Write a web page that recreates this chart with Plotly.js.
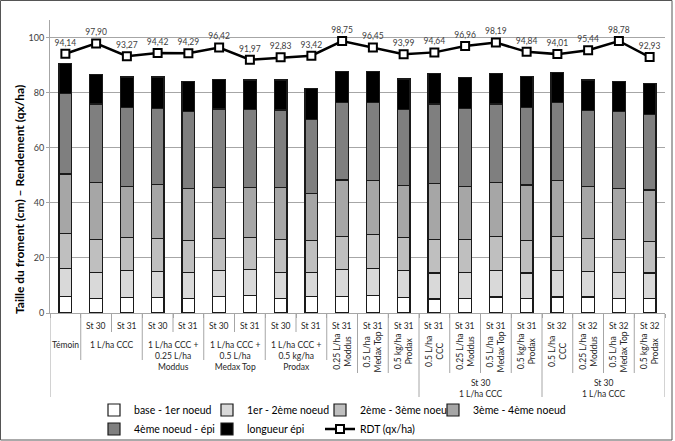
<!DOCTYPE html>
<html><head><meta charset="utf-8">
<script src="https://cdn.plot.ly/plotly-3.0.1.min.js"></script>
<style>html,body{margin:0;padding:0;background:#fff}#chart{width:675px;height:441px}</style>
</head><body><div id="chart"></div>
<script>
// ---- data ----
const categories = [
  "Témoin",
  "1 L/ha CCC St 30", "1 L/ha CCC St 31",
  "1 L/ha CCC + 0.25 L/ha Moddus St 30", "1 L/ha CCC + 0.25 L/ha Moddus St 31",
  "1 L/ha CCC + 0.5 L/ha Medax Top St 30", "1 L/ha CCC + 0.5 L/ha Medax Top St 31",
  "1 L/ha CCC + 0.5 kg/ha Prodax St 30", "1 L/ha CCC + 0.5 kg/ha Prodax St 31",
  "0.25 L/ha Moddus St 31", "0.5 L/ha Medax Top St 31", "0.5 kg/ha Prodax St 31",
  "St 30 1 L/ha CCC + 0.5 L/ha CCC St 31", "St 30 1 L/ha CCC + 0.25 L/ha Moddus St 31",
  "St 30 1 L/ha CCC + 0.5 L/ha Medax Top St 31", "St 30 1 L/ha CCC + 0.5 kg/ha Prodax St 31",
  "St 30 1 L/ha CCC + 0.5 L/ha CCC St 32", "St 30 1 L/ha CCC + 0.25 L/ha Moddus St 32",
  "St 30 1 L/ha CCC + 0.5 L/ha Medax Top St 32", "St 30 1 L/ha CCC + 0.5 kg/ha Prodax St 32"
];
const baseToNode1   = [6.0,5.4,5.7,5.7,5.4,6.0,6.4,5.4,6.0,6.0,6.4,5.7,5.1,5.4,5.8,5.4,5.8,5.8,5.4,5.4];
const node1ToNode2  = [10.3,9.3,9.6,9.4,9.3,9.3,9.3,9.4,8.8,9.7,9.9,9.6,9.4,9.3,9.6,9.1,9.6,9.3,9.4,9.1];
const node2ToNode3  = [12.7,12.1,12.1,12.1,11.5,11.9,11.7,12.0,11.4,12.1,12.3,12.1,12.1,11.9,12.4,11.7,12.4,11.9,11.8,11.5];
const node3ToNode4  = [21.5,20.7,18.5,19.4,19.1,18.3,18.1,18.8,17.3,20.5,19.4,18.9,20.5,19.3,19.7,20.3,20.2,18.9,18.5,18.7];
const node4ToEar    = [29.3,28.4,28.8,27.8,27.8,28.6,28.3,28.1,26.8,28.1,28.5,27.7,28.8,28.4,28.4,28.2,28.4,27.6,28.0,27.5];
const earLength     = [10.7,10.8,11.0,11.3,11.1,10.7,10.8,10.9,11.1,11.2,11.1,11.0,11.1,11.1,11.1,11.1,10.8,11.1,11.1,11.2];
const rdt = [94.14,97.90,93.27,94.42,94.29,96.42,91.97,92.83,93.42,98.75,96.45,93.99,94.64,96.96,98.19,94.84,94.01,95.44,98.78,92.93];

const seriesNames = ["base - 1er noeud","1er - 2ème noeud","2ème - 3ème noeud","3ème - 4ème noeud","4ème noeud - épi","longueur épi"];
const lineName = "RDT (qx/ha)";

// axis label tiers
const tier1Labels = ["","St 30","St 31","St 30","St 31","St 30","St 31","St 30","St 31","St 31","St 31","St 31","St 31","St 31","St 31","St 31","St 32","St 32","St 32","St 32"];
const tier2Labels = ["Témoin","1 L/ha CCC","1 L/ha CCC +<br>0.25 L/ha<br>Moddus","1 L/ha CCC +<br>0.5 L/ha<br>Medax Top","1 L/ha CCC +<br>0.5 kg/ha<br>Prodax",
  "0.25 L/ha<br>Moddus","0.5 L/ha<br>Medax Top","0.5 kg/ha<br>Prodax",
  "0.5 L/ha<br>CCC","0.25 L/ha<br>Moddus","0.5 L/ha<br>Medax Top","0.5 kg/ha<br>Prodax",
  "0.5 L/ha<br>CCC","0.25 L/ha<br>Moddus","0.5 L/ha<br>Medax Top","0.5 kg/ha<br>Prodax"];
const tier2Starts = [0,1,3,5,7,9,10,11,12,13,14,15,16,17,18,19];
const tier2Sizes  = [1,2,2,2,2,1,1,1,1,1,1,1,1,1,1,1];
const tier3Labels = ["","St 30<br>1 L/ha CCC","St 30<br>1 L/ha CCC"];
const tier3Starts = [0,12,16];
const tier3Sizes  = [12,4,4];

// ---- layout helpers ----
const W = 675, H = 441, mL = 50, mR = 10, mT = 20, mB = 128;
const plotH = H - mT - mB, plotW = W - mL - mR;
const py = p => (H - mB - p) / plotH;   // pixel y -> paper y
const px = p => (p - mL) / plotW;       // pixel x -> paper x
const cy = p => (H - p) / H;            // pixel y -> container y
const cx = p => p / W;                  // pixel x -> container x

const colors = ["#ffffff","#d9d9d9","#bfbfbf","#a6a6a6","#7f7f7f","#000000"];
const segs = [baseToNode1,node1ToNode2,node2ToNode3,node3ToNode4,node4ToEar,earLength];
const font = "Lato, 'Liberation Sans', sans-serif";

const traces = segs.map((v,i)=>({
  type:"bar", x:categories, y:v, name:seriesNames[i],
  marker:{color:colors[i], line:{color:"#1a1a1a", width:1.2}},
  legend: i<4 ? "legend" : "legend2",
  legendwidth: (i===3) ? 95 : undefined,
  hoverinfo:"skip"
}));
traces.push({
  type:"scatter", mode:"lines+markers+text", x:categories, y:rdt, name:lineName,
  text: rdt.map(v=>v.toFixed(2).replace(".",",")),
  textposition:"top center",
  textfont:{family:font, size:8.5, color:"#404040"},
  line:{color:"#000", width:2.5},
  marker:{symbol:"square", size:8, color:"#fff", line:{color:"#000", width:2}},
  legend:"legend2", legendwidth:80, cliponaxis:false
});

const sepColor = "#a6a6a6";
const shapes = [];
const annotations = [];
function vline(x, y1pix){
  shapes.push({type:"line", xref:"x", yref:"paper", x0:x, x1:x, y0:py(H-mB), y1:py(y1pix), line:{color:sepColor, width:1}});
}
tier3Starts.forEach((s,i)=>{ vline(s-0.5, 397); });
vline(19.5, 397);
tier2Starts.forEach((s,i)=>{
  if(!tier3Starts.includes(s)) vline(s-0.5, s>9 ? 373 : 360);
  if(tier2Sizes[i]===2) vline(s+0.5, 332);
});
tier1Labels.forEach((t,i)=>{
  if(t) annotations.push({xref:"x", yref:"paper", x:i, y:py(325.5), text:t, showarrow:false, yanchor:"middle",
    font:{family:font, size:8.5, color:"#262626"}});
});
tier2Labels.forEach((t,i)=>{
  const c = tier2Starts[i] + (tier2Sizes[i]-1)/2;
  const rotated = tier2Sizes[i]===1 && tier2Starts[i]>0;
  if(rotated){
    annotations.push({xref:"x", yref:"paper", x:c, y:py(351.5), text:t, showarrow:false, textangle:-90,
      xanchor:"center", yanchor:"middle", font:{family:font, size:8.5, color:"#262626"}});
  } else {
    annotations.push({xref:"x", yref:"paper", x:c, y:py(337.5), text:t, showarrow:false,
      yanchor:"top", font:{family:font, size:8.5, color:"#262626"}});
  }
});
tier3Labels.forEach((t,i)=>{
  if(!t) return;
  const c = tier3Starts[i] + (tier3Sizes[i]-1)/2;
  annotations.push({xref:"x", yref:"paper", x:c, y:py(376), text:t, showarrow:false,
    yanchor:"top", font:{family:font, size:8.5, color:"#262626"}});
});
annotations.push({xref:"paper", yref:"paper", x:px(19), y:py(200), text:"<b>Taille du froment (cm) – Rendement (qx/ha)</b>",
  textangle:-90, showarrow:false, xanchor:"center", yanchor:"middle", font:{family:font, size:12, color:"#000"}});
shapes.push({type:"rect", xref:"paper", yref:"paper", x0:px(0.5), x1:px(672), y0:py(440), y1:py(0.5), line:{color:"#555", width:1}, fillcolor:"rgba(0,0,0,0)"});

const legendCommon = {orientation:"h", xref:"container", yref:"container", xanchor:"left", yanchor:"middle",
  entrywidth:68, entrywidthmode:"pixels", itemwidth:30, traceorder:"normal",
  font:{family:font, size:10.5, color:"#000"}, bgcolor:"rgba(0,0,0,0)"};

const layout = {
  width:W, height:H, margin:{l:mL, r:mR, t:mT, b:mB},
  paper_bgcolor:"#fff", plot_bgcolor:"#fff",
  barmode:"stack", bargap:0.59,
  font:{family:font},
  showlegend:true,
  legend: Object.assign({x:cx(94), y:cy(410)}, legendCommon),
  legend2: Object.assign({x:cx(94), y:cy(429)}, legendCommon),
  xaxis:{type:"category", categoryorder:"array", categoryarray:categories, range:[-0.5,19.5],
    showticklabels:false, ticks:"outside", tickson:"boundaries", ticklen:4, tickcolor:sepColor,
    showline:true, linecolor:sepColor, showgrid:false, zeroline:false, fixedrange:true},
  yaxis:{range:[0,106.4], dtick:20, tick0:0, showgrid:true, gridcolor:"#a6a6a6", gridwidth:1,
    showline:true, linecolor:sepColor, ticks:"outside", ticklen:3, tickcolor:sepColor,
    tickfont:{family:font, size:9, color:"#404040"}, zeroline:false, fixedrange:true},
  shapes:shapes, annotations:annotations
};
Plotly.newPlot("chart", traces, layout, {displayModeBar:false, staticPlot:true});
</script></body></html>
